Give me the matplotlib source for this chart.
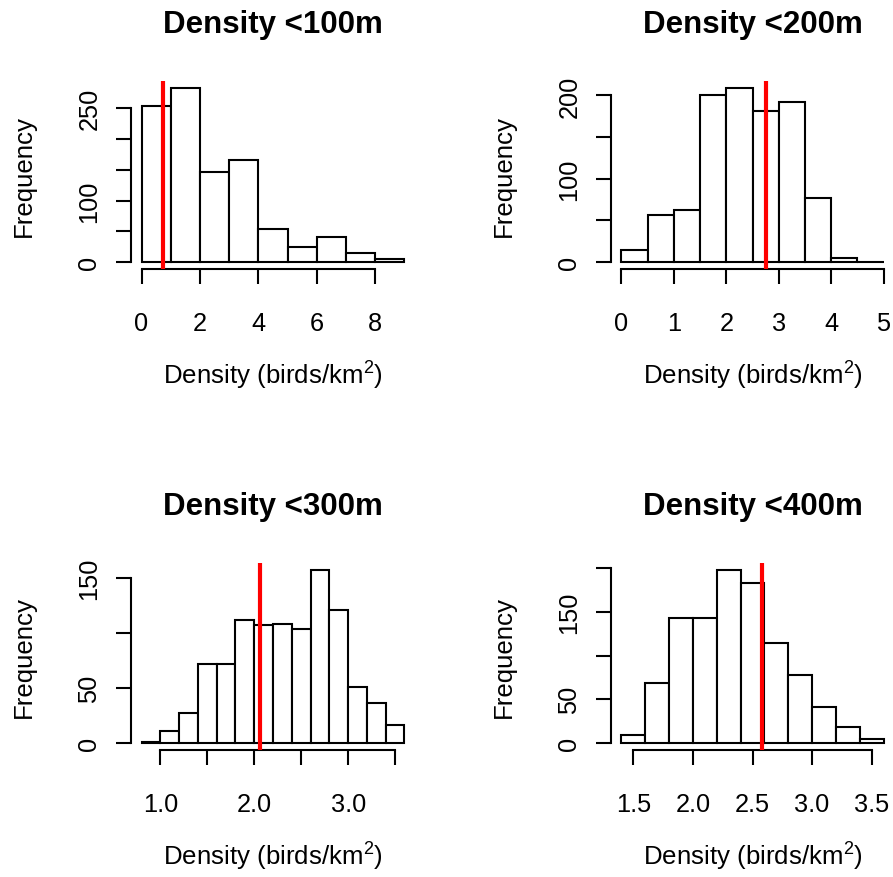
import matplotlib
matplotlib.use("Agg")
import matplotlib.pyplot as plt
import numpy as np

plt.rcParams['font.family'] = ['Liberation Sans', 'DejaVu Sans']
plt.rcParams['mathtext.fontset'] = 'custom'
plt.rcParams['mathtext.rm'] = 'Liberation Sans'
plt.rcParams['mathtext.it'] = 'Liberation Sans:italic'
plt.rcParams['mathtext.bf'] = 'Liberation Sans:bold'

# ---- data ----
titles = ["Density <100m", "Density <200m", "Density <300m", "Density <400m"]

edges_100 = [0, 1, 2, 3, 4, 5, 6, 7, 8, 9]
counts_100 = [253, 283, 146, 166, 54, 25, 41, 15, 5]
red_100 = 0.73

edges_200 = [0.0, 0.5, 1.0, 1.5, 2.0, 2.5, 3.0, 3.5, 4.0, 4.5, 5.0]
counts_200 = [14, 57, 62, 200, 209, 181, 192, 77, 5, 0]
red_200 = 2.75

edges_300 = [0.8, 1.0, 1.2, 1.4, 1.6, 1.8, 2.0, 2.2, 2.4, 2.6, 2.8, 3.0, 3.2, 3.4, 3.6]
counts_300 = [1, 11, 27, 72, 72, 112, 107, 108, 103, 157, 121, 51, 36, 16]
red_300 = 2.06

edges_400 = [1.4, 1.6, 1.8, 2.0, 2.2, 2.4, 2.6, 2.8, 3.0, 3.2, 3.4, 3.6]
counts_400 = [9, 69, 143, 143, 198, 183, 114, 78, 41, 18, 5]
red_400 = 2.58

xticks_100 = [0, 2, 4, 6, 8]
xlabels_100 = ["0", "2", "4", "6", "8"]
xticks_200 = [0, 1, 2, 3, 4, 5]
xlabels_200 = ["0", "1", "2", "3", "4", "5"]
xticks_300 = [1.0, 1.5, 2.0, 2.5, 3.0, 3.5]
xlabels_300 = ["1.0", "", "2.0", "", "3.0", ""]
xticks_400 = [1.5, 2.0, 2.5, 3.0, 3.5]
xlabels_400 = ["1.5", "2.0", "2.5", "3.0", "3.5"]

yticks_100 = [0, 50, 100, 150, 200, 250]
ylabels_100 = ["0", "", "100", "", "", "250"]
yticks_200 = [0, 50, 100, 150, 200]
ylabels_200 = ["0", "", "100", "", "200"]
yticks_300 = [0, 50, 100, 150]
ylabels_300 = ["0", "50", "", "150"]
yticks_400 = [0, 50, 100, 150, 200]
ylabels_400 = ["0", "50", "", "150", ""]

xlab = "Density (birds/km$^{2}$)"
ylab = "Frequency"

# ---- layout (pixels) ----
W, H = 893, 878
fig = plt.figure(figsize=(W / 100, H / 100), dpi=100)
fig.patch.set_facecolor("white")


def rect(left, right, top, bottom):
    return [left / W, 1 - bottom / H, (right - left) / W, (bottom - top) / H]


boxes = [(131, 415, 82, 270), (611, 894, 82, 270),
         (131, 415, 564, 751), (611, 894, 564, 751)]

panels = [
    (edges_100, counts_100, red_100, xticks_100, xlabels_100, yticks_100, ylabels_100),
    (edges_200, counts_200, red_200, xticks_200, xlabels_200, yticks_200, ylabels_200),
    (edges_300, counts_300, red_300, xticks_300, xlabels_300, yticks_300, ylabels_300),
    (edges_400, counts_400, red_400, xticks_400, xlabels_400, yticks_400, ylabels_400),
]

LW = 1.5
for (edges, counts, red, xt, xl, yt, yl), box, title in zip(panels, boxes, titles):
    l, r, t, b = box
    ax = fig.add_axes(rect(l, r, t, b))
    ax.patch.set_alpha(0)
    e = np.array(edges, dtype=float)
    ax.bar(e[:-1], counts, width=np.diff(e), align='edge',
           facecolor='white', edgecolor='black', linewidth=LW, zorder=2)
    ax.axvline(red, color='red', linewidth=3.0, zorder=4)

    lo, hi = e[0], e[-1]
    pad = 0.04 * (hi - lo)
    ax.set_xlim(lo - pad, hi + pad)
    m = max(counts)
    ax.set_ylim(-0.04 * m, 1.04 * m)

    for s in ("top", "right"):
        ax.spines[s].set_visible(False)
    for s in ("left", "bottom"):
        ax.spines[s].set_linewidth(LW)
    ax.spines["left"].set_bounds(yt[0], yt[-1])
    ax.spines["bottom"].set_bounds(xt[0], xt[-1])

    ax.set_xticks(xt, xl)
    ax.set_yticks(yt, yl, rotation=90, va='center')
    ax.tick_params(direction='out', length=10.8, width=LW, labelsize=18.3)
    ax.tick_params(axis='x', pad=19.2)
    ax.tick_params(axis='y', pad=10.6)

    ax.set_title(title, fontsize=22.5, fontweight='bold', y=1 + 49 / (b - t), pad=0,
                 va='baseline')
    ax.set_xlabel(xlab, fontsize=18.6, va='baseline')
    ax.xaxis.set_label_coords(0.5, -115 / (b - t))
    ax.set_ylabel(ylab, fontsize=18.6, va='baseline')
    ax.yaxis.set_label_coords(-100 / (r - l), 0.5)

fig.savefig("out.png", dpi=100, facecolor="white")
